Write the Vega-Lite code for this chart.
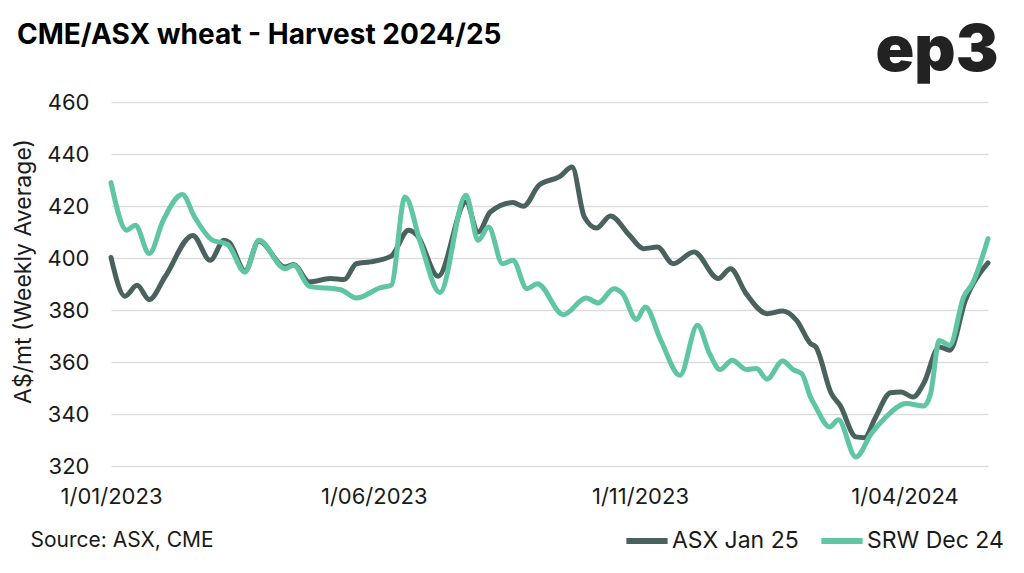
{
  "$schema": "https://vega.github.io/schema/vega-lite/v6.json",
  "width": 877,
  "height": 364,
  "autosize": {"type": "none"},
  "padding": {"left": 111, "top": 102, "right": 36, "bottom": 107},
  "background": "white",
  "config": {
    "view": {"stroke": null},
    "font": "Inter"
  },
  "title": {
    "text": "CME/ASX wheat - Harvest 2024/25",
    "anchor": "start",
    "frame": "group",
    "dx": -94,
    "offset": 0,
    "dy": 52,
    "baseline": "alphabetic",
    "fontSize": 28,
    "fontWeight": "bold",
    "font": "Inter",
    "color": "#000000"
  },
  "datasets": {
    "prices": [
      {"date": "2023-01-01", "series": "ASX Jan 25", "value": 400.2},
      {"date": "2023-01-09", "series": "ASX Jan 25", "value": 385.3},
      {"date": "2023-01-16", "series": "ASX Jan 25", "value": 389.5},
      {"date": "2023-01-23", "series": "ASX Jan 25", "value": 384.0},
      {"date": "2023-02-01", "series": "ASX Jan 25", "value": 392.7},
      {"date": "2023-02-17", "series": "ASX Jan 25", "value": 408.7},
      {"date": "2023-02-27", "series": "ASX Jan 25", "value": 399.1},
      {"date": "2023-03-07", "series": "ASX Jan 25", "value": 406.8},
      {"date": "2023-03-10", "series": "ASX Jan 25", "value": 406.0},
      {"date": "2023-03-19", "series": "ASX Jan 25", "value": 395.0},
      {"date": "2023-03-27", "series": "ASX Jan 25", "value": 406.5},
      {"date": "2023-04-11", "series": "ASX Jan 25", "value": 396.5},
      {"date": "2023-04-16", "series": "ASX Jan 25", "value": 397.5},
      {"date": "2023-04-25", "series": "ASX Jan 25", "value": 390.8},
      {"date": "2023-05-07", "series": "ASX Jan 25", "value": 392.1},
      {"date": "2023-05-15", "series": "ASX Jan 25", "value": 391.7},
      {"date": "2023-05-22", "series": "ASX Jan 25", "value": 397.8},
      {"date": "2023-05-30", "series": "ASX Jan 25", "value": 398.5},
      {"date": "2023-06-11", "series": "ASX Jan 25", "value": 400.7},
      {"date": "2023-06-21", "series": "ASX Jan 25", "value": 410.7},
      {"date": "2023-06-26", "series": "ASX Jan 25", "value": 408.7},
      {"date": "2023-07-08", "series": "ASX Jan 25", "value": 393.0},
      {"date": "2023-07-24", "series": "ASX Jan 25", "value": 421.5},
      {"date": "2023-07-31", "series": "ASX Jan 25", "value": 410.0},
      {"date": "2023-08-07", "series": "ASX Jan 25", "value": 417.7},
      {"date": "2023-08-20", "series": "ASX Jan 25", "value": 421.3},
      {"date": "2023-08-26", "series": "ASX Jan 25", "value": 419.9},
      {"date": "2023-09-04", "series": "ASX Jan 25", "value": 428.0},
      {"date": "2023-09-16", "series": "ASX Jan 25", "value": 431.4},
      {"date": "2023-09-23", "series": "ASX Jan 25", "value": 435.0},
      {"date": "2023-09-30", "series": "ASX Jan 25", "value": 415.8},
      {"date": "2023-10-07", "series": "ASX Jan 25", "value": 411.5},
      {"date": "2023-10-15", "series": "ASX Jan 25", "value": 416.2},
      {"date": "2023-10-26", "series": "ASX Jan 25", "value": 408.7},
      {"date": "2023-11-03", "series": "ASX Jan 25", "value": 403.6},
      {"date": "2023-11-11", "series": "ASX Jan 25", "value": 404.2},
      {"date": "2023-11-20", "series": "ASX Jan 25", "value": 397.8},
      {"date": "2023-12-02", "series": "ASX Jan 25", "value": 402.3},
      {"date": "2023-12-16", "series": "ASX Jan 25", "value": 392.1},
      {"date": "2023-12-23", "series": "ASX Jan 25", "value": 395.9},
      {"date": "2024-01-01", "series": "ASX Jan 25", "value": 386.3},
      {"date": "2024-01-13", "series": "ASX Jan 25", "value": 378.6},
      {"date": "2024-01-22", "series": "ASX Jan 25", "value": 379.6},
      {"date": "2024-01-30", "series": "ASX Jan 25", "value": 376.0},
      {"date": "2024-02-07", "series": "ASX Jan 25", "value": 367.1},
      {"date": "2024-02-10", "series": "ASX Jan 25", "value": 365.8},
      {"date": "2024-02-19", "series": "ASX Jan 25", "value": 347.8},
      {"date": "2024-02-24", "series": "ASX Jan 25", "value": 343.3},
      {"date": "2024-03-04", "series": "ASX Jan 25", "value": 331.2},
      {"date": "2024-03-09", "series": "ASX Jan 25", "value": 330.9},
      {"date": "2024-03-15", "series": "ASX Jan 25", "value": 338.2},
      {"date": "2024-03-24", "series": "ASX Jan 25", "value": 348.2},
      {"date": "2024-03-30", "series": "ASX Jan 25", "value": 348.5},
      {"date": "2024-04-06", "series": "ASX Jan 25", "value": 346.5},
      {"date": "2024-04-12", "series": "ASX Jan 25", "value": 351.7},
      {"date": "2024-04-21", "series": "ASX Jan 25", "value": 365.8},
      {"date": "2024-04-27", "series": "ASX Jan 25", "value": 364.5},
      {"date": "2024-05-06", "series": "ASX Jan 25", "value": 383.7},
      {"date": "2024-05-19", "series": "ASX Jan 25", "value": 398.1},

      {"date": "2023-01-01", "series": "SRW Dec 24", "value": 429.0},
      {"date": "2023-01-10", "series": "SRW Dec 24", "value": 410.7},
      {"date": "2023-01-15", "series": "SRW Dec 24", "value": 412.6},
      {"date": "2023-01-23", "series": "SRW Dec 24", "value": 401.7},
      {"date": "2023-01-31", "series": "SRW Dec 24", "value": 414.5},
      {"date": "2023-02-11", "series": "SRW Dec 24", "value": 424.4},
      {"date": "2023-02-18", "series": "SRW Dec 24", "value": 415.8},
      {"date": "2023-02-28", "series": "SRW Dec 24", "value": 407.0},
      {"date": "2023-03-09", "series": "SRW Dec 24", "value": 405.2},
      {"date": "2023-03-19", "series": "SRW Dec 24", "value": 394.6},
      {"date": "2023-03-27", "series": "SRW Dec 24", "value": 406.8},
      {"date": "2023-04-11", "series": "SRW Dec 24", "value": 395.9},
      {"date": "2023-04-16", "series": "SRW Dec 24", "value": 397.2},
      {"date": "2023-04-25", "series": "SRW Dec 24", "value": 389.1},
      {"date": "2023-05-13", "series": "SRW Dec 24", "value": 387.8},
      {"date": "2023-05-22", "series": "SRW Dec 24", "value": 384.6},
      {"date": "2023-06-05", "series": "SRW Dec 24", "value": 388.6},
      {"date": "2023-06-11", "series": "SRW Dec 24", "value": 389.5},
      {"date": "2023-06-19", "series": "SRW Dec 24", "value": 423.5},
      {"date": "2023-06-28", "series": "SRW Dec 24", "value": 405.5},
      {"date": "2023-07-09", "series": "SRW Dec 24", "value": 386.7},
      {"date": "2023-07-24", "series": "SRW Dec 24", "value": 424.1},
      {"date": "2023-07-31", "series": "SRW Dec 24", "value": 406.8},
      {"date": "2023-08-06", "series": "SRW Dec 24", "value": 411.9},
      {"date": "2023-08-14", "series": "SRW Dec 24", "value": 397.8},
      {"date": "2023-08-20", "series": "SRW Dec 24", "value": 399.1},
      {"date": "2023-08-28", "series": "SRW Dec 24", "value": 388.2},
      {"date": "2023-09-03", "series": "SRW Dec 24", "value": 390.1},
      {"date": "2023-09-18", "series": "SRW Dec 24", "value": 378.2},
      {"date": "2023-10-01", "series": "SRW Dec 24", "value": 384.6},
      {"date": "2023-10-08", "series": "SRW Dec 24", "value": 382.7},
      {"date": "2023-10-17", "series": "SRW Dec 24", "value": 388.2},
      {"date": "2023-10-22", "series": "SRW Dec 24", "value": 386.3},
      {"date": "2023-10-30", "series": "SRW Dec 24", "value": 376.3},
      {"date": "2023-11-04", "series": "SRW Dec 24", "value": 381.2},
      {"date": "2023-11-13", "series": "SRW Dec 24", "value": 368.3},
      {"date": "2023-11-24", "series": "SRW Dec 24", "value": 354.9},
      {"date": "2023-12-04", "series": "SRW Dec 24", "value": 374.1},
      {"date": "2023-12-11", "series": "SRW Dec 24", "value": 363.2},
      {"date": "2023-12-17", "series": "SRW Dec 24", "value": 357.1},
      {"date": "2023-12-24", "series": "SRW Dec 24", "value": 360.7},
      {"date": "2024-01-01", "series": "SRW Dec 24", "value": 357.1},
      {"date": "2024-01-07", "series": "SRW Dec 24", "value": 357.5},
      {"date": "2024-01-13", "series": "SRW Dec 24", "value": 353.4},
      {"date": "2024-01-22", "series": "SRW Dec 24", "value": 360.4},
      {"date": "2024-01-28", "series": "SRW Dec 24", "value": 357.1},
      {"date": "2024-02-02", "series": "SRW Dec 24", "value": 355.5},
      {"date": "2024-02-07", "series": "SRW Dec 24", "value": 346.5},
      {"date": "2024-02-10", "series": "SRW Dec 24", "value": 342.7},
      {"date": "2024-02-18", "series": "SRW Dec 24", "value": 335.0},
      {"date": "2024-02-23", "series": "SRW Dec 24", "value": 337.8},
      {"date": "2024-03-04", "series": "SRW Dec 24", "value": 323.5},
      {"date": "2024-03-13", "series": "SRW Dec 24", "value": 332.5},
      {"date": "2024-03-21", "series": "SRW Dec 24", "value": 338.6},
      {"date": "2024-04-02", "series": "SRW Dec 24", "value": 344.0},
      {"date": "2024-04-12", "series": "SRW Dec 24", "value": 343.1},
      {"date": "2024-04-16", "series": "SRW Dec 24", "value": 347.8},
      {"date": "2024-04-21", "series": "SRW Dec 24", "value": 368.3},
      {"date": "2024-04-27", "series": "SRW Dec 24", "value": 366.4},
      {"date": "2024-05-05", "series": "SRW Dec 24", "value": 385.0},
      {"date": "2024-05-10", "series": "SRW Dec 24", "value": 390.1},
      {"date": "2024-05-19", "series": "SRW Dec 24", "value": 407.4}
    ],
    "logo": [
      {"date": "2024-05-25", "value": 472, "label": "ep3"}
    ]
  },
  "layer": [
    {
      "data": {"name": "prices"},
      "mark": {"type": "line", "interpolate": "monotone", "strokeWidth": 5, "strokeCap": "round", "strokeJoin": "round"},
      "encoding": {
        "x": {
          "field": "date",
          "type": "temporal",
          "scale": {
            "type": "utc",
            "domain": [
              {"year": 2023, "month": 1, "date": 1, "utc": true},
              {"year": 2024, "month": 5, "date": 19, "utc": true}
            ],
            "nice": false
          },
          "axis": {
            "values": [
              {"year": 2023, "month": 1, "date": 1, "utc": true},
              {"year": 2023, "month": 6, "date": 1, "utc": true},
              {"year": 2023, "month": 11, "date": 1, "utc": true},
              {"year": 2024, "month": 4, "date": 1, "utc": true}
            ],
            "labelExpr": "utcFormat(datum.value, '%-d/%m/%Y')",
            "grid": false,
            "domain": false,
            "ticks": false,
            "labelFontSize": 22,
            "labelColor": "#1a1a1a",
            "labelPadding": 20,
            "labelFlush": false,
            "labelOverlap": false,
            "title": "Source: ASX, CME",
            "titleAnchor": "start",
            "titleAlign": "left",
            "titleBaseline": "alphabetic",
            "titleX": -81,
            "titleY": 80,
            "titleFontSize": 21,
            "titleFontWeight": "normal",
            "titleColor": "#1a1a1a"
          }
        },
        "y": {
          "field": "value",
          "type": "quantitative",
          "scale": {"domain": [320, 460], "nice": false, "zero": false},
          "axis": {
            "values": [320, 340, 360, 380, 400, 420, 440, 460],
            "grid": true,
            "gridColor": "#dddddd",
            "gridWidth": 1.5,
            "domain": false,
            "ticks": false,
            "labelFontSize": 22,
            "labelColor": "#1a1a1a",
            "labelPadding": 22,
            "title": "A$/mt (Weekly Average)",
            "titleFontSize": 23,
            "titleFontWeight": "normal",
            "titleColor": "#1a1a1a",
            "titleY": 169,
            "titlePadding": 11
          }
        },
        "color": {
          "field": "series",
          "type": "nominal",
          "scale": {"domain": ["ASX Jan 25", "SRW Dec 24"], "range": ["#4a625f", "#60c5a3"]},
          "legend": {
            "title": null,
            "orient": "none",
            "direction": "horizontal",
            "legendX": 512,
            "legendY": 415,
            "symbolType": "stroke",
            "symbolSize": 1700,
            "symbolStrokeWidth": 6,
            "labelFontSize": 23,
            "labelColor": "#1a1a1a",
            "labelOffset": 1,
            "columnPadding": 10
          }
        }
      }
    },
    {
      "data": {"name": "logo"},
      "mark": {"type": "text", "align": "right", "baseline": "alphabetic", "fontSize": 64, "fontWeight": 900, "font": "Inter", "color": "#222222", "clip": false},
      "encoding": {
        "x": {"field": "date", "type": "temporal"},
        "y": {"field": "value", "type": "quantitative"},
        "text": {"field": "label"}
      }
    }
  ]
}
